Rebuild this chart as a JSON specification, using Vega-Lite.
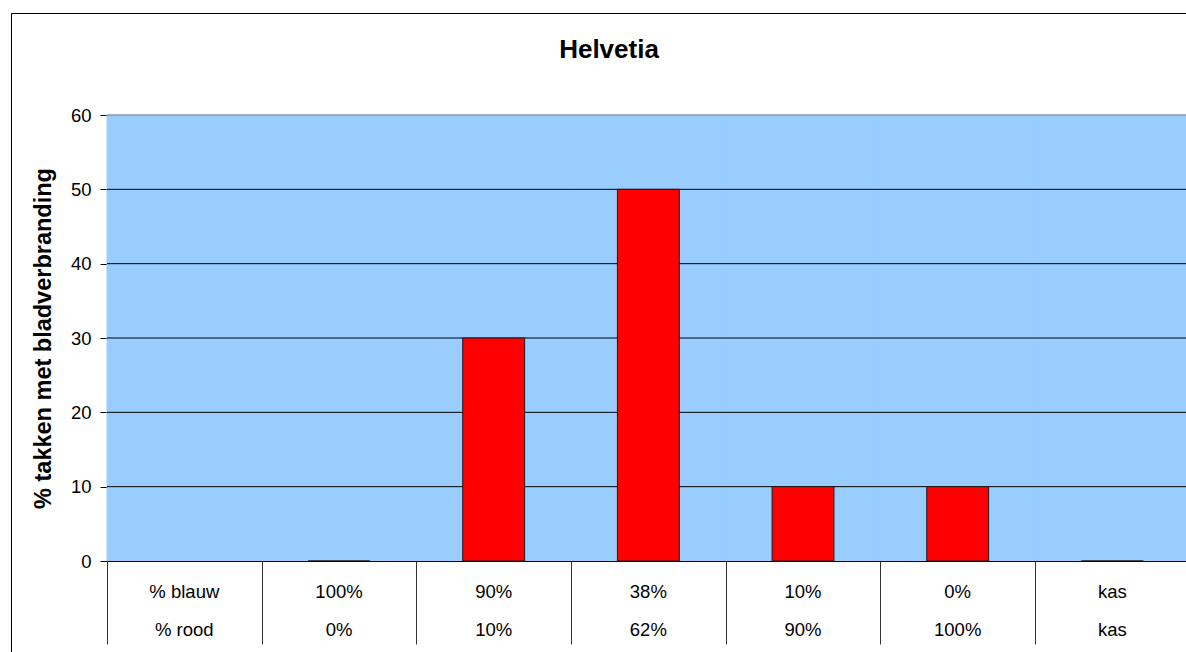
{
  "$schema": "https://vega.github.io/schema/vega-lite/v6.json",
  "autosize": "none",
  "padding": {"left": 11, "top": 13, "right": 0, "bottom": 0},
  "width": 1175,
  "height": 639,
  "background": "white",
  "title": {
    "text": "Helvetia",
    "frame": "group",
    "anchor": "middle",
    "dx": 10.5,
    "offset": -71,
    "baseline": "alphabetic",
    "fontSize": 26,
    "fontWeight": "bold",
    "color": "black"
  },
  "datasets": {
    "behandelingen": [
      {"blauw": "% blauw", "rood": "% rood", "takken": null},
      {"blauw": "100%", "rood": "0%", "takken": 0},
      {"blauw": "90%", "rood": "10%", "takken": 30},
      {"blauw": "38%", "rood": "62%", "takken": 50},
      {"blauw": "10%", "rood": "90%", "takken": 10},
      {"blauw": "0%", "rood": "100%", "takken": 10},
      {"blauw": "kas", "rood": "kas", "takken": 0}
    ],
    "raster": [
      {"waarde": 10}, {"waarde": 20}, {"waarde": 30},
      {"waarde": 40}, {"waarde": 50}, {"waarde": 60}
    ]
  },
  "layer": [
    {
      "data": {"name": "behandelingen"},
      "mark": {"type": "rect", "fill": "#99CCFF", "stroke": "#99CCFF", "strokeWidth": 1},
      "encoding": {
        "x": {
          "field": "blauw",
          "type": "nominal",
          "scale": {
            "domain": ["% blauw", "100%", "90%", "38%", "10%", "0%", "kas"],
            "range": [96, 1178.7],
            "paddingInner": 0,
            "paddingOuter": 0
          },
          "axis": {
            "orient": "bottom",
            "offset": -91,
            "labels": false,
            "tickBand": "extent",
            "tickSize": 83,
            "tickColor": "#333333",
            "tickWidth": 1,
            "domainColor": "black",
            "domainWidth": 1,
            "grid": false,
            "title": null
          }
        },
        "y": {
          "datum": 0,
          "type": "quantitative",
          "scale": {"domain": [0, 60], "range": [548, 102], "nice": false, "zero": true},
          "axis": {
            "orient": "left",
            "offset": -96,
            "values": [0, 10, 20, 30, 40, 50, 60],
            "grid": false,
            "tickSize": 7,
            "tickColor": "black",
            "domainColor": "black",
            "labelPadding": 9,
            "labelFontSize": 18.5,
            "labelColor": "black",
            "title": "% takken met bladverbranding",
            "titleFontSize": 23.5,
            "titleFontWeight": "bold",
            "titleColor": "black",
            "titlePadding": 15
          }
        },
        "y2": {"datum": 60}
      }
    },
    {
      "data": {"name": "raster"},
      "mark": {"type": "rule", "strokeWidth": 1},
      "encoding": {
        "y": {"field": "waarde", "type": "quantitative"},
        "x": {"datum": "% blauw", "type": "nominal", "bandPosition": 0},
        "x2": {"datum": "kas", "bandPosition": 1},
        "color": {
          "condition": {"test": "datum.waarde == 60", "value": "#808080"},
          "value": "black"
        }
      }
    },
    {
      "data": {"name": "behandelingen"},
      "mark": {"type": "bar", "width": {"band": 0.4}, "fill": "#FF0000", "stroke": "#1a1a1a", "strokeWidth": 1},
      "encoding": {
        "x": {"field": "blauw", "type": "nominal"},
        "y": {"field": "takken", "type": "quantitative"}
      }
    },
    {
      "data": {"name": "behandelingen"},
      "mark": {"type": "text", "dy": 30.5, "baseline": "middle", "fontSize": 18.5, "color": "black"},
      "encoding": {
        "x": {"field": "blauw", "type": "nominal"},
        "y": {"datum": 0, "type": "quantitative"},
        "text": {"field": "blauw"}
      }
    },
    {
      "data": {"name": "behandelingen"},
      "mark": {"type": "text", "dy": 69, "baseline": "middle", "fontSize": 18.5, "color": "black"},
      "encoding": {
        "x": {"field": "blauw", "type": "nominal"},
        "y": {"datum": 0, "type": "quantitative"},
        "text": {"field": "rood"}
      }
    }
  ],
  "config": {
    "font": "Liberation Sans",
    "view": {"stroke": "black", "strokeWidth": 1, "strokeDash": [1175, 1814, 639], "fill": "white"},
    "axis": {"labelFont": "Liberation Sans", "titleFont": "Liberation Sans"}
  }
}
